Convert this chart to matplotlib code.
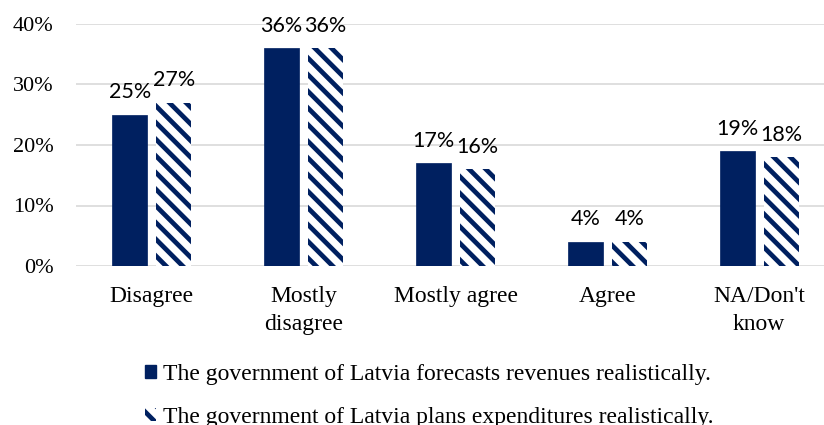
import matplotlib
matplotlib.use("Agg")
import matplotlib.pyplot as plt
import numpy as np
from matplotlib.patches import Patch

categories = ["Disagree", "Mostly\ndisagree", "Mostly agree", "Agree", "NA/Don't\nknow"]
revenues = [25, 36, 17, 4, 19]
expenditures = [27, 36, 16, 4, 18]
series_names = ["The government of Latvia forecasts revenues realistically.",
                "The government of Latvia plans expenditures realistically."]
yticks = [0, 10, 20, 30, 40]

navy = "#002060"
serif = "Liberation Serif"
sans = "Lato"
stripes = "\\\\"

plt.rcParams["hatch.linewidth"] = 3.4

W, H = 824, 425
fig = plt.figure(figsize=(W / 100, H / 100), dpi=100)
# axes box in pixels: left 76, right 835 (clipped by figure), top 24, bottom 266
x0, x1, y0, y1 = 76, 835, 24, 266
ax = fig.add_axes([x0 / W, 1 - y1 / H, (x1 - x0) / W, (y1 - y0) / H])

x = np.arange(len(categories))
bw = 0.23
gap = 0.06
off = (bw + gap) / 2
b1 = ax.bar(x - off, revenues, bw, color=navy, edgecolor=navy, linewidth=0.5, zorder=3)
b2 = ax.bar(x + off, expenditures, bw, facecolor="white", edgecolor=navy, linewidth=0,
            hatch=stripes, zorder=3)

for bars, vals in ((b1, revenues), (b2, expenditures)):
    for r, v in zip(bars, vals):
        ax.annotate(f"{v}%", (r.get_x() + r.get_width() / 2, v), xytext=(0, 9),
                    textcoords="offset points", ha="center", va="bottom",
                    fontsize=15.5, family=sans, color="#000000", zorder=4)

ax.set_xlim(-0.5, 4.5)
ax.set_ylim(0, 40)
ax.set_yticks(yticks)
ax.set_yticklabels([f"{t}%" for t in yticks], family=serif, fontsize=16)
ax.set_xticks(x)
ax.set_xticklabels(categories, family=serif, fontsize=17, linespacing=1.4)
ax.tick_params(axis="y", length=0, pad=16)
ax.tick_params(axis="x", length=0, pad=14.5)
ax.yaxis.grid(True, color="#d9d9d9", linewidth=1.2, zorder=0)
ax.set_axisbelow(True)
for s in ax.spines.values():
    s.set_visible(False)

handles = [Patch(facecolor=navy, edgecolor=navy),
           Patch(facecolor="white", edgecolor=navy, linewidth=0, hatch=stripes)]
leg = fig.legend(handles, series_names, loc="upper left", bbox_to_anchor=(145 / W, 1 - 364 / H),
                 frameon=False, prop={"family": serif, "size": 17},
                 handlelength=0.45, handleheight=0.45, handletextpad=0.3,
                 labelspacing=0.92, borderaxespad=0, borderpad=0)

fig.savefig("out.png", dpi=100)
